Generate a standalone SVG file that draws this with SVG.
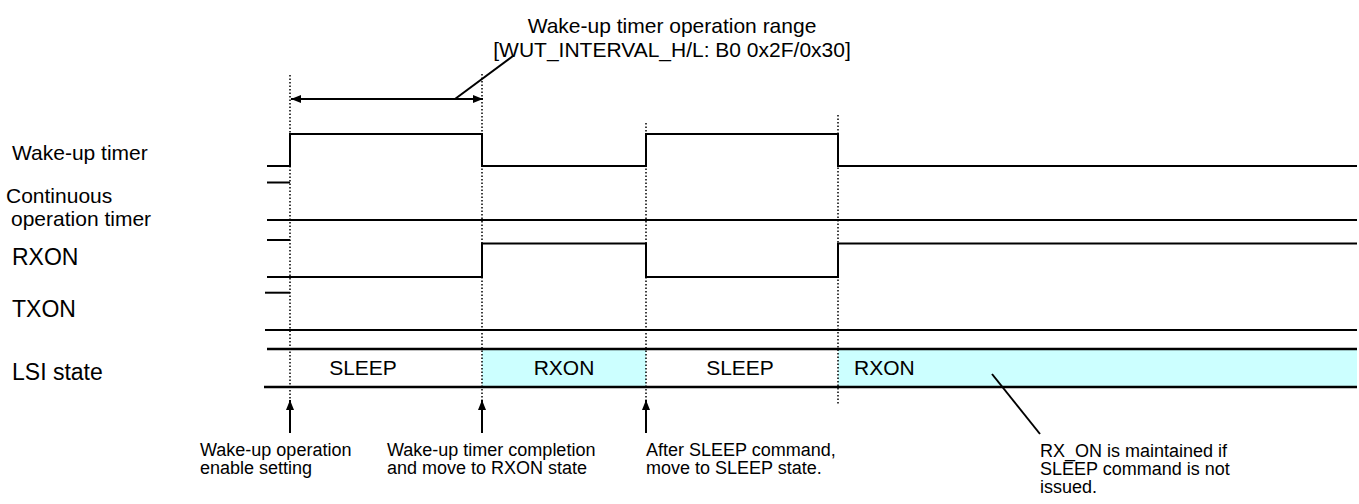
<svg xmlns="http://www.w3.org/2000/svg" width="1359" height="504" viewBox="0 0 1359 504">
<defs>
<marker id="ah" markerWidth="10" markerHeight="8" refX="10" refY="4" orient="auto" markerUnits="userSpaceOnUse">
<path d="M0,0 L10,4 L0,8 Z" fill="#000"/>
</marker>
<marker id="ahs" markerWidth="10" markerHeight="8" refX="0" refY="4" orient="auto" markerUnits="userSpaceOnUse">
<path d="M10,0 L0,4 L10,8 Z" fill="#000"/>
</marker>
<style>
text{font-family:"Liberation Sans",Arial,sans-serif;fill:#000}
.lbl{font-size:21px}
.lbl2{font-size:23px}
.st{font-size:21px}
.note{font-size:18px}
.sig{fill:none;stroke:#000;stroke-width:2}
.bus{fill:none;stroke:#000;stroke-width:2.5}
.dot{fill:none;stroke:#000;stroke-width:1.5;stroke-dasharray:1.5 2}
.ln{fill:none;stroke:#000;stroke-width:2}
</style>
</defs>
<rect width="1359" height="504" fill="#fff"/>

<g id="lsi-fill">
<rect x="482" y="349" width="164" height="38" fill="#CCFFFF"/>
<rect x="838" y="349" width="519" height="38" fill="#CCFFFF"/>
</g>

<g id="title">
<text class="lbl" x="672" y="33" text-anchor="middle">Wake-up timer operation range</text>
<text class="lbl" x="672" y="57" text-anchor="middle">[WUT_INTERVAL_H/L: B0 0x2F/0x30]</text>
</g>

<g id="labels">
<text class="lbl" x="12" y="160">Wake-up timer</text>
<text class="lbl" x="6" y="203">Continuous</text>
<text class="lbl" x="11" y="226"> operation timer</text>
<text class="lbl2" x="12" y="265">RXON</text>
<text class="lbl2" x="12" y="317">TXON</text>
<text class="lbl2" x="12" y="380">LSI state</text>
</g>

<g id="wakeup-timer">
<path class="sig" d="M267,166 H290 V134 H482 V166 H646 V134 H838 V166 H1357"/>
</g>
<g id="continuous-timer">
<path class="sig" d="M267,182.5 H290"/>
<path class="sig" d="M267,220 H1357"/>
</g>
<g id="rxon">
<path class="sig" d="M267,240 H290"/>
<path class="sig" d="M267,277 H482 V243.5 H646 V277 H838 V243.5 H1357"/>
</g>
<g id="txon">
<path class="sig" d="M265,292.7 H290"/>
<path class="sig" d="M265,330 H1357"/>
</g>
<g id="lsi-state">
<path class="bus" d="M267,349 H1357"/>
<path class="bus" d="M264,387 H1357"/>
<text class="st" x="363" y="375" text-anchor="middle">SLEEP</text>
<text class="st" x="564" y="375" text-anchor="middle">RXON</text>
<text class="st" x="740" y="375" text-anchor="middle">SLEEP</text>
<text class="st" x="854" y="375">RXON</text>
</g>

<g id="guides">
<path class="dot" d="M290,75 V400"/>
<path class="dot" d="M482,74 V400"/>
<path class="dot" d="M646,123 V400"/>
<path class="dot" d="M838,115 V405"/>
</g>

<g id="connectors">
<path class="ln" d="M291,99 H483" marker-start="url(#ahs)" marker-end="url(#ah)"/>
<path class="ln" d="M455,99 L513,56"/>
<path class="ln" d="M290,433 V400" marker-end="url(#ah)"/>
<path class="ln" d="M482,433 V400" marker-end="url(#ah)"/>
<path class="ln" d="M646,433 V400" marker-end="url(#ah)"/>
<path class="ln" d="M992,374 L1040,434"/>
</g>

<g id="notes">
<text class="note" x="200" y="456">Wake-up operation</text>
<text class="note" x="200" y="474">enable setting</text>
<text class="note" x="387" y="456">Wake-up timer completion</text>
<text class="note" x="387" y="474">and move to RXON state</text>
<text class="note" x="646" y="456">After SLEEP command,</text>
<text class="note" x="646" y="474">move to SLEEP state.</text>
<text class="note" x="1040" y="457">RX_ON is maintained if</text>
<text class="note" x="1040" y="475">SLEEP command is not</text>
<text class="note" x="1040" y="493">issued.</text>
</g>
</svg>
